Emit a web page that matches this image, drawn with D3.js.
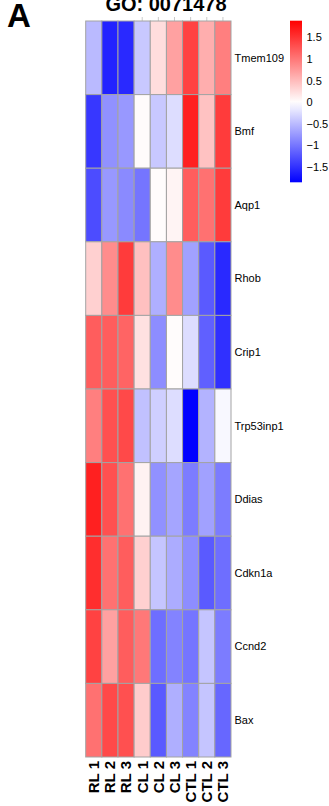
<!DOCTYPE html>
<html>
<head>
<meta charset="utf-8">
<script src="https://cdn.jsdelivr.net/npm/d3@7"></script>
<style>
  body { margin: 0; background: #fff; }
  svg { display: block; font-family: "Liberation Sans", Arial, sans-serif; }
</style>
</head>
<body>
<div id="chart"></div>
<script>
// samples (columns) and genes (rows)
const samples = ["RL 1", "RL 2", "RL 3", "CL 1", "CL 2", "CL 3", "CTL 1", "CTL 2", "CTL 3"];
const genes = ["Tmem109", "Bmf", "Aqp1", "Rhob", "Crip1", "Trp53inp1", "Ddias", "Cdkn1a", "Ccnd2", "Bax"];

// row-scaled expression (z-score), one array per gene
const tmem109   = [-0.5, -1.6, -1.55, -0.4, 0.25, 0.7, 1.4, 0.6, 0.95];
const bmf       = [-1.45, -0.8, -0.75, 0.03, -0.4, -0.25, 1.65, 0.45, 1.45];
const aqp1      = [-1.3, -0.75, -0.85, -1.0, 0.02, 0.08, 1.2, 1.05, 1.45];
const rhob      = [0.35, 0.85, 1.45, 0.47, -0.58, 0.85, -0.68, -1.2, -1.55];
const crip1     = [1.2, 1.2, 1.15, 0.22, -0.83, 0.02, -0.25, -1.15, -1.5];
const trp53inp1 = [0.95, 1.3, 1.35, -0.45, -0.35, -0.25, -1.85, -0.55, -0.05];
const ddias     = [1.65, 1.3, 1.05, 0.1, -0.8, -0.65, -0.95, -0.68, -0.95];
const cdkn1a    = [1.55, 1.05, 1.2, 0.35, -0.42, -0.6, -0.83, -1.2, -1.05];
const ccnd2     = [1.4, 0.7, 1.2, 1.0, -1.05, -0.9, -1.0, -0.42, -0.95];
const bax       = [1.05, 1.35, 1.3, 0.38, -1.2, -0.58, -0.9, -0.42, -1.1];
const rows = [tmem109, bmf, aqp1, rhob, crip1, trp53inp1, ddias, cdkn1a, ccnd2, bax];

const legendTicks = [1.5, 1, 0.5, 0, -0.5, -1, -1.5];
const valueMin = -1.85, valueMax = 1.89;

const width = 329, height = 806;
const grid = { left: 85.7, right: 231, top: 21, bottom: 757 };

const svg = d3.select("#chart").append("svg")
  .attr("width", width)
  .attr("height", height);

const x = d3.scaleBand().domain(samples).range([grid.left, grid.right]);
const y = d3.scaleBand().domain(genes).range([grid.top, grid.bottom]);

const color = d3.scaleLinear()
  .domain([valueMin, 0, valueMax])
  .range(["#0000ff", "#ffffff", "#ff0000"]);

const cells = [];
rows.forEach((vals, r) => {
  vals.forEach((v, c) => cells.push({ gene: genes[r], sample: samples[c], value: v }));
});

// cut-off dendrogram leaves peeking above the grid
svg.append("g")
  .selectAll("line")
  .data(samples.slice(3))
  .enter()
  .append("line")
  .attr("x1", d => x(d) + x.bandwidth() / 2)
  .attr("x2", d => x(d) + x.bandwidth() / 2)
  .attr("y1", grid.top - 4)
  .attr("y2", grid.top)
  .attr("stroke", "#bbbbbb")
  .attr("stroke-width", 0.8);

svg.append("g")
  .selectAll("rect")
  .data(cells)
  .enter()
  .append("rect")
  .attr("x", d => x(d.sample))
  .attr("y", d => y(d.gene))
  .attr("width", x.bandwidth())
  .attr("height", y.bandwidth())
  .attr("fill", d => color(d.value))
  .attr("stroke", "#a3a3a3")
  .attr("stroke-width", 1);

// gene labels
svg.append("g")
  .selectAll("text")
  .data(genes)
  .enter()
  .append("text")
  .attr("x", grid.right + 3.5)
  .attr("y", d => y(d) + y.bandwidth() / 2)
  .attr("dy", "0.35em")
  .style("font-size", "11px")
  .attr("fill", "#000")
  .text(d => d);

// sample labels, rotated
svg.append("g")
  .selectAll("text")
  .data(samples)
  .enter()
  .append("text")
  .attr("transform", d => "translate(" + (x(d) + x.bandwidth() / 2) + "," + (grid.bottom + 4) + ") rotate(-90)")
  .attr("dy", "0.36em")
  .style("text-anchor", "end")
  .style("font-size", "15px")
  .style("font-weight", "bold")
  .text(d => d);

// colour legend
const legend = { x: 290, w: 12, top: 20.7, bottom: 182.3 };
const ly = d3.scaleLinear().domain([valueMin, valueMax]).range([legend.bottom, legend.top]);

const grad = svg.append("defs").append("linearGradient")
  .attr("id", "legendGrad")
  .attr("x1", 0).attr("x2", 0).attr("y1", 1).attr("y2", 0);
d3.range(0, 1.0001, 0.05).forEach(t => {
  grad.append("stop")
    .attr("offset", t)
    .attr("stop-color", color(valueMin + t * (valueMax - valueMin)));
});

svg.append("rect")
  .attr("x", legend.x)
  .attr("y", legend.top)
  .attr("width", legend.w)
  .attr("height", legend.bottom - legend.top)
  .attr("fill", "url(#legendGrad)");

svg.append("g")
  .selectAll("text")
  .data(legendTicks)
  .enter()
  .append("text")
  .attr("x", legend.x + legend.w + 4.5)
  .attr("y", d => ly(d))
  .attr("dy", "0.35em")
  .style("font-size", "11px")
  .text(d => d3.format("")(d).replace("-", "\u2212"));

// title and panel letter
svg.append("text")
  .attr("x", 166)
  .attr("y", 10.5)
  .style("text-anchor", "middle")
  .style("font-size", "20px")
  .style("font-weight", "bold")
  .text("GO: 0071478");

svg.append("text")
  .attr("x", 7)
  .attr("y", 26.5)
  .style("font-size", "33px")
  .style("font-weight", "bold")
  .text("A");
</script>
</body>
</html>
